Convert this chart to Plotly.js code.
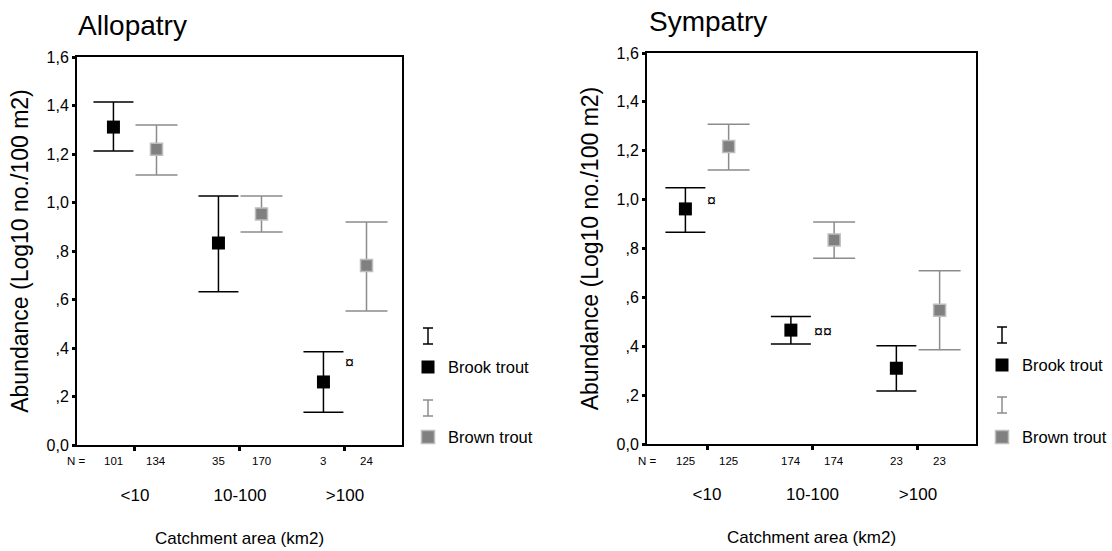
<!DOCTYPE html>
<html><head><meta charset="utf-8">
<script src="https://cdn.plot.ly/plotly-3.0.1.min.js"></script>
<style>html,body{margin:0;padding:0;background:#fff}#chart{width:1112px;height:551px}</style>
</head><body><div id="chart"></div>
<script>
// ---- data ----
const categories = ['<10', '10-100', '>100'];
const yTickVals = [0, 0.2, 0.4, 0.6, 0.8, 1.0, 1.2, 1.4, 1.6];
const yTickText = ['0,0', ',2', ',4', ',6', ',8', '1,0', '1,2', '1,4', '1,6'];

const alloBrookMean  = [1.311, 0.833, 0.260];
const alloBrookUpper = [1.414, 1.027, 0.385];
const alloBrookLower = [1.212, 0.632, 0.135];
const alloBrownMean  = [1.220, 0.953, 0.740];
const alloBrownUpper = [1.320, 1.027, 0.920];
const alloBrownLower = [1.113, 0.878, 0.553];
const alloBrookN = [101, 35, 3];
const alloBrownN = [134, 170, 24];

const sympBrookMean  = [0.962, 0.466, 0.310];
const sympBrookUpper = [1.049, 0.522, 0.402];
const sympBrookLower = [0.867, 0.409, 0.217];
const sympBrownMean  = [1.217, 0.835, 0.547];
const sympBrownUpper = [1.308, 0.908, 0.709];
const sympBrownLower = [1.121, 0.760, 0.386];
const sympBrookN = [125, 174, 23];
const sympBrownN = [125, 174, 23];

// significance marks: [category index, y value, text]
const alloMarks = [[2, 0.34, '¤']];
const sympMarks = [[0, 0.996, '¤'], [1, 0.46, '¤¤']];

const panelTitles = ['Allopatry', 'Sympatry'];
const seriesNames = ['Brook trout', 'Brown trout'];
const yTitle = 'Abundance (Log10 no./100 m2)';
const xTitle = 'Catchment area (km2)';

// ---- styling / layout helpers ----
const W = 1112, H = 551;
const FONT = 'Liberation Sans, Arial, sans-serif';
const px = x => x / W;
const py = y => 1 - y / H;
const OFF = 0.205;
const BROWN = '#808080', BROWN_LINE = '#bdbdbd', BROWN_ERR = '#8c8c8c';
const idx = categories.map((c, i) => i);

function brookTrace(mean, up, lo, xa, ya) {
  return {
    type: 'scatter', mode: 'markers', name: seriesNames[0], showlegend: false,
    x: idx.map(i => i - OFF), y: mean, xaxis: xa, yaxis: ya,
    marker: {symbol: 'square', size: 13, color: '#000000'},
    error_y: {type: 'data', symmetric: false,
      array: mean.map((m, i) => up[i] - m), arrayminus: mean.map((m, i) => m - lo[i]),
      color: '#000000', thickness: 1.5, width: 20}
  };
}
function brownTrace(mean, up, lo, xa, ya) {
  return {
    type: 'scatter', mode: 'markers', name: seriesNames[1], showlegend: false,
    x: idx.map(i => i + OFF), y: mean, xaxis: xa, yaxis: ya,
    marker: {symbol: 'square', size: 12, color: BROWN, line: {color: BROWN_LINE, width: 1.5}},
    error_y: {type: 'data', symmetric: false,
      array: mean.map((m, i) => up[i] - m), arrayminus: mean.map((m, i) => m - lo[i]),
      color: BROWN_ERR, thickness: 1.5, width: 21}
  };
}

const data = [
  brookTrace(alloBrookMean, alloBrookUpper, alloBrookLower, 'x', 'y'),
  brownTrace(alloBrownMean, alloBrownUpper, alloBrownLower, 'x', 'y'),
  brookTrace(sympBrookMean, sympBrookUpper, sympBrookLower, 'x2', 'y2'),
  brownTrace(sympBrownMean, sympBrownUpper, sympBrownLower, 'x2', 'y2')
];

function xAxis(domain, range, anchor) {
  return {
    domain: domain, range: range, anchor: anchor, fixedrange: true,
    tickmode: 'array', tickvals: idx, ticktext: categories,
    ticks: 'outside', ticklen: 4, tickwidth: 3, tickcolor: '#000',
    ticklabelstandoff: 30,
    tickfont: {family: FONT, size: 17, color: '#000'},
    showline: true, mirror: true, linecolor: '#000', linewidth: 2,
    showgrid: false, zeroline: false,
    title: {text: xTitle, font: {family: FONT, size: 17, color: '#000'}, standoff: 28}
  };
}
function yAxis(domain, anchor) {
  return {
    domain: domain, range: [0, 1.6], anchor: anchor, fixedrange: true,
    tickmode: 'array', tickvals: yTickVals, ticktext: yTickText,
    ticks: 'outside', ticklen: 3, tickwidth: 3, tickcolor: '#000',
    tickfont: {family: FONT, size: 16, color: '#000'},
    showline: true, mirror: true, linecolor: '#000', linewidth: 2,
    showgrid: false, zeroline: false,
    title: {text: yTitle, font: {family: FONT, size: 23, color: '#000'}, standoff: 11}
  };
}

const annotations = [];
function addN(brookN, brownN, xref, nx) {
  annotations.push({xref: 'paper', yref: 'paper', x: px(nx), y: py(461), text: 'N =',
    showarrow: false, xanchor: 'center', yanchor: 'middle', font: {family: FONT, size: 11.5, color: '#000'}});
  idx.forEach(i => {
    annotations.push({xref: xref, yref: 'paper', x: i - OFF, y: py(461), text: String(brookN[i]),
      showarrow: false, xanchor: 'center', yanchor: 'middle', font: {family: FONT, size: 11.5, color: '#000'}});
    annotations.push({xref: xref, yref: 'paper', x: i + OFF, y: py(461), text: String(brownN[i]),
      showarrow: false, xanchor: 'center', yanchor: 'middle', font: {family: FONT, size: 11.5, color: '#000'}});
  });
}
addN(alloBrookN, alloBrownN, 'x', 76);
addN(sympBrookN, sympBrownN, 'x2', 647);

function addMarks(marks, xref, yref, dx) {
  marks.forEach(m => annotations.push({xref: xref, yref: yref, x: m[0] + dx, y: m[1], text: m[2],
    showarrow: false, xanchor: 'center', yanchor: 'middle', font: {family: FONT, size: 16, color: '#000'}}));
}
addMarks(alloMarks.filter(m => m[2] === '¤'), 'x', 'y', 0.04);
addMarks(sympMarks.filter(m => m[2] === '¤'), 'x2', 'y2', 0.04);
addMarks(sympMarks.filter(m => m[2] === '¤¤'), 'x2', 'y2', 0.095);

// panel titles
annotations.push({xref: 'paper', yref: 'paper', x: px(76), y: py(25), text: panelTitles[0], showarrow: false,
  xanchor: 'left', yanchor: 'middle', font: {family: FONT, size: 28, color: '#000'}});
annotations.push({xref: 'paper', yref: 'paper', x: px(647), y: py(22), text: panelTitles[1], showarrow: false,
  xanchor: 'left', yanchor: 'middle', font: {family: FONT, size: 28, color: '#000'}});

// custom legends
const shapes = [];
function addLegend(cx, tx, ys) {
  const ibar = (y, col) => {
    shapes.push({type: 'line', xref: 'paper', yref: 'paper', x0: px(cx), x1: px(cx), y0: py(y - 8), y1: py(y + 8), line: {color: col, width: 1.5}});
    shapes.push({type: 'line', xref: 'paper', yref: 'paper', x0: px(cx - 5), x1: px(cx + 5), y0: py(y - 8), y1: py(y - 8), line: {color: col, width: 1.5}});
    shapes.push({type: 'line', xref: 'paper', yref: 'paper', x0: px(cx - 5), x1: px(cx + 5), y0: py(y + 8), y1: py(y + 8), line: {color: col, width: 1.5}});
  };
  const sq = (y, fill, lc) => shapes.push({type: 'rect', xref: 'paper', yref: 'paper',
    x0: px(cx - 6.5), x1: px(cx + 6.5), y0: py(y - 6.5), y1: py(y + 6.5),
    fillcolor: fill, line: {color: lc, width: lc === fill ? 0 : 1.5}});
  ibar(ys[0], '#000');
  sq(ys[1], '#000', '#000');
  ibar(ys[2], BROWN_ERR);
  sq(ys[3], BROWN, BROWN_LINE);
  [[ys[1], seriesNames[0]], [ys[3], seriesNames[1]]].forEach(([y, t]) => annotations.push({
    xref: 'paper', yref: 'paper', x: px(tx), y: py(y), text: t, showarrow: false,
    xanchor: 'left', yanchor: 'middle', font: {family: FONT, size: 16.5, color: '#000'}}));
}
addLegend(428, 446, [336, 367, 408, 437]);
addLegend(1002, 1020, [335, 365, 405, 437]);

const layout = {
  width: W, height: H, margin: {l: 0, r: 0, t: 0, b: 0},
  paper_bgcolor: '#fff', plot_bgcolor: '#fff', showlegend: false,
  font: {family: FONT, color: '#000'},
  xaxis: xAxis([px(77), px(402)], [-0.552, 2.543], 'y'),
  yaxis: yAxis([py(445), py(57)], 'x'),
  xaxis2: xAxis([px(647), px(976)], [-0.569, 2.55], 'y2'),
  yaxis2: yAxis([py(444), py(53)], 'x2'),
  annotations: annotations, shapes: shapes
};

Plotly.newPlot('chart', data, layout, {displayModeBar: false, staticPlot: true});
</script></body></html>
